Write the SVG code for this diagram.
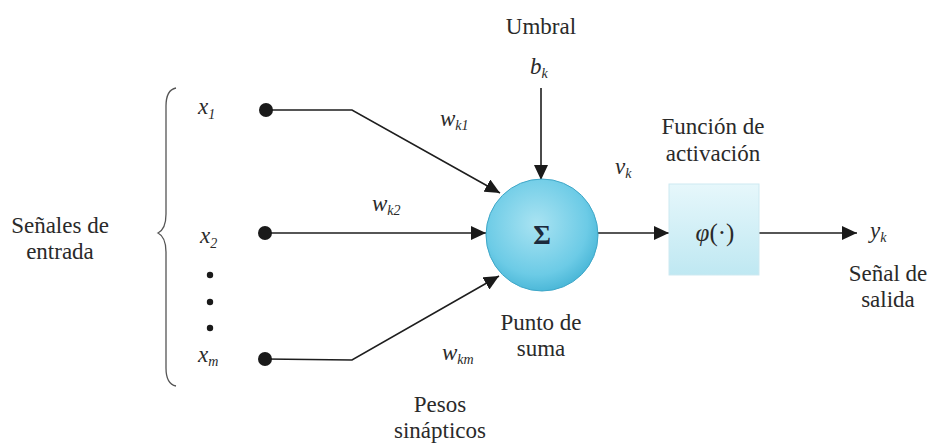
<svg xmlns="http://www.w3.org/2000/svg" width="931" height="443" viewBox="0 0 931 443">
<defs>
<style>
text{font-family:'Liberation Serif','Times New Roman',serif}
.t{font-size:23px;fill:#2a2a2a;text-anchor:middle}
.i{font-style:italic;font-size:23px;fill:#2a2a2a}
.s{font-size:14px}
.c{fill:none;stroke:#1e1e1e;stroke-width:1.6}
.d{fill:#1a1a1a}
</style>
<marker id="ah" markerUnits="userSpaceOnUse" markerWidth="16" markerHeight="14" refX="15" refY="7" orient="auto">
<path d="M0,0 L15,7 L0,14 z" fill="#1a1a1a"/>
</marker>
<radialGradient id="gc" cx="0.45" cy="0.4" r="0.65">
<stop offset="0" stop-color="#a9e3f2"/>
<stop offset="0.7" stop-color="#6ccbe6"/>
<stop offset="1" stop-color="#42b2d4"/>
</radialGradient>
<linearGradient id="gb" x1="0" y1="0" x2="0" y2="1">
<stop offset="0" stop-color="#e6f7fb"/>
<stop offset="1" stop-color="#bfe8f2"/>
</linearGradient>
</defs>
<rect width="931" height="443" fill="#ffffff"/>

<g id="connectors">
<path class="c" d="M266,110 L352,110 L500,193" marker-end="url(#ah)"/>
<path class="c" d="M265,233 L486,233" marker-end="url(#ah)"/>
<path class="c" d="M265,359 L352,360 L499,276" marker-end="url(#ah)"/>
<path class="c" d="M541,88 L541,180" marker-end="url(#ah)"/>
<path class="c" d="M597,233 L669,233" marker-end="url(#ah)"/>
<path class="c" d="M759,233 L857,233" marker-end="url(#ah)"/>
</g>

<g id="inputs">
<path d="M176,88 Q166,90 166,106 L166,214 Q166,229 158,233 Q166,237 166,252 L166,368 Q166,384 176,386" fill="none" stroke="#555" stroke-width="1.3"/>
<text class="t" x="60" y="233">Señales de</text>
<text class="t" x="60" y="259">entrada</text>
<circle class="d" cx="266" cy="110" r="7"/>
<circle class="d" cx="265" cy="233" r="7"/>
<circle class="d" cx="265" cy="359" r="7"/>
<circle class="d" cx="210" cy="275" r="3.2"/>
<circle class="d" cx="210" cy="302" r="3.2"/>
<circle class="d" cx="210" cy="328" r="3.2"/>
<text class="i" x="198" y="114">x<tspan class="s" dy="5">1</tspan></text>
<text class="i" x="200" y="243">x<tspan class="s" dy="5">2</tspan></text>
<text class="i" x="198" y="362">x<tspan class="s" dy="4">m</tspan></text>
</g>

<g id="weights">
<text class="i" x="440" y="126">w<tspan class="s" dy="4">k1</tspan></text>
<text class="i" x="372" y="211">w<tspan class="s" dy="4">k2</tspan></text>
<text class="i" x="442" y="360">w<tspan class="s" dy="4">km</tspan></text>
<text class="t" x="440" y="412">Pesos</text>
<text class="t" x="440" y="438">sinápticos</text>
</g>

<g id="bias">
<text class="t" x="541" y="34">Umbral</text>
<text class="i" x="530" y="74">b<tspan class="s" dy="4">k</tspan></text>
</g>

<g id="sum">
<circle cx="542" cy="235" r="56" fill="url(#gc)" stroke="#3fa7c8" stroke-width="1"/>
<text x="542" y="244" text-anchor="middle" font-weight="bold" font-size="27" fill="#1c2a3c">Σ</text>
<text class="t" x="541" y="330">Punto de</text>
<text class="t" x="541" y="356">suma</text>
</g>

<g id="vk">
<text class="i" x="615" y="174">v<tspan class="s" dy="4">k</tspan></text>
</g>

<g id="activation">
<rect x="669" y="184" width="90" height="91" fill="url(#gb)" stroke="#cde9f1" stroke-width="1"/>
<text class="t" x="713" y="134">Función de</text>
<text class="t" x="713" y="161">activación</text>
<text x="715" y="241" text-anchor="middle" font-size="25" fill="#2a2a2a"><tspan font-style="italic">φ</tspan>(·)</text>
</g>

<g id="output">
<text class="i" x="870" y="238">y<tspan class="s" dy="4">k</tspan></text>
<text class="t" x="888" y="281">Señal de</text>
<text class="t" x="888" y="307">salida</text>
</g>
</svg>
